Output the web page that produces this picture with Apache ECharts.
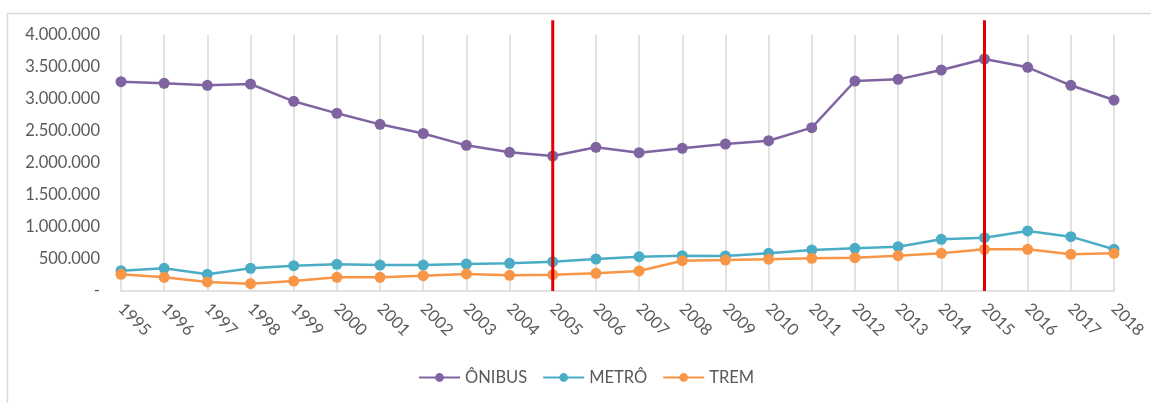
<!DOCTYPE html>
<html>
<head>
<meta charset="utf-8">
<script src="https://cdn.jsdelivr.net/npm/echarts@6/dist/echarts.min.js"></script>
<style>
  html, body { margin: 0; padding: 0; background: #fff; }
  #chart { width: 1151px; height: 403px; }
</style>
</head>
<body>
<div id="chart"></div>
<script>
// Passageiros transportados por modo, 1995–2018
const years = ['1995','1996','1997','1998','1999','2000','2001','2002','2003','2004','2005','2006',
               '2007','2008','2009','2010','2011','2012','2013','2014','2015','2016','2017','2018'];

const onibus = [3270000, 3245000, 3214000, 3234000, 2964000, 2776000, 2604000, 2461000, 2276000, 2167000, 2109000, 2245000,
                2161000, 2229000, 2297000, 2348000, 2552000, 3281000, 3307000, 3453000, 3625000, 3495000, 3214000, 2984000];

const metro  = [317000, 354000, 260000, 354000, 396000, 417000, 406000, 406000, 422000, 432000, 458000, 500000,
                536000, 552000, 547000, 589000, 641000, 667000, 692000, 807000, 833000, 938000, 849000, 652000];

const trem   = [260000, 214000, 141000, 115000, 156000, 214000, 214000, 240000, 266000, 245000, 255000, 276000,
                313000, 474000, 484000, 497000, 510000, 521000, 552000, 589000, 651000, 651000, 573000, 589000];

// Years marked with a vertical red line, and the value the line reaches up to
const markedYears = ['2005', '2015'];
const markTop = 4230000;

const seriesNames = ['ÔNIBUS', 'METRÔ', 'TREM'];
const colors = ['#8064A2', '#4BACC6', '#F79646'];

const fontFamily = 'Lato, "Open Sans", sans-serif';
const textColor = '#595959';
const fontSize = 16.5;

function fmt(v) {
  if (v === 0) return '-';
  return String(v).replace(/\B(?=(\d{3})+(?!\d))/g, '.');
}

function lineSeries(name, data, color) {
  return {
    name: name,
    type: 'line',
    data: data,
    symbol: 'circle',
    symbolSize: 11,
    lineStyle: { width: 2.5, color: color },
    itemStyle: { color: color },
    emphasis: { disabled: true },
    clip: false,
    z: 3
  };
}

const frame = {
  type: 'polyline',
  shape: { points: [[7.5, 403], [7.5, 13.5], [1151, 13.5]] },
  style: { stroke: '#d9d9d9', lineWidth: 1.5, fill: null },
  silent: true
};

const chart = echarts.init(document.getElementById('chart'), null, { renderer: 'canvas' });

chart.setOption({
  animation: false,
  backgroundColor: '#ffffff',
  graphic: [frame],
  grid: { left: 121, right: 37, top: 35, bottom: 112 },
  legend: {
    data: seriesNames,
    left: 418,
    top: 369,
    padding: 0,
    itemWidth: 41,
    itemHeight: 11,
    itemGap: 15,
    textStyle: { color: textColor, fontSize: fontSize, fontFamily: fontFamily }
  },
  xAxis: {
    type: 'category',
    data: years,
    boundaryGap: false,
    axisLine: { show: true, lineStyle: { color: '#d9d9d9', width: 1.5 } },
    axisTick: { show: false },
    splitLine: { show: true, lineStyle: { color: '#d9d9d9', width: 1.5 } },
    axisLabel: {
      rotate: -45,
      margin: 15,
      color: textColor,
      fontSize: fontSize,
      fontFamily: fontFamily,
      interval: 0
    }
  },
  yAxis: {
    type: 'value',
    min: 0,
    max: 4000000,
    interval: 500000,
    axisLine: { show: false },
    axisTick: { show: false },
    splitLine: { show: false },
    axisLabel: {
      margin: 21,
      color: textColor,
      fontSize: fontSize,
      fontFamily: fontFamily,
      formatter: fmt
    }
  },
  series: [
    lineSeries(seriesNames[0], onibus, colors[0]),
    lineSeries(seriesNames[1], metro, colors[1]),
    lineSeries(seriesNames[2], trem, colors[2])
  ]
});

// Red reference lines: positioned through the chart's own axes,
// running from zero up slightly above the top of the value axis.
const redLines = markedYears.map(y => {
  const x = chart.convertToPixel({ xAxisIndex: 0 }, y);
  const y0 = chart.convertToPixel({ yAxisIndex: 0 }, 0);
  const y1 = chart.convertToPixel({ yAxisIndex: 0 }, markTop);
  return {
    type: 'line',
    shape: { x1: x, y1: y0, x2: x, y2: y1 },
    style: { stroke: '#E00000', lineWidth: 3 },
    z: 100,
    silent: true
  };
});

chart.setOption({ graphic: [frame].concat(redLines) }, { replaceMerge: ['graphic'] });
</script>
</body>
</html>
